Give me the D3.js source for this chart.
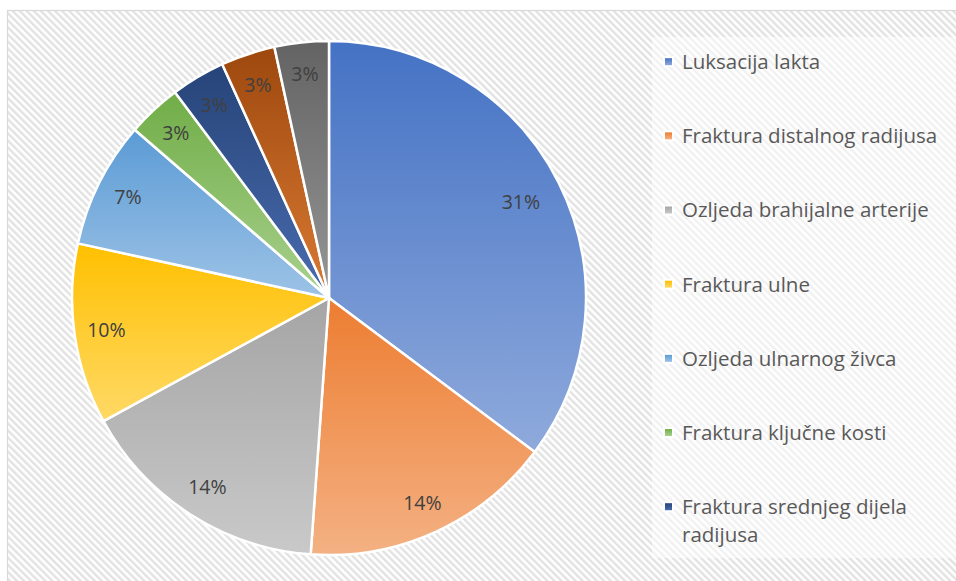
<!DOCTYPE html>
<html>
<head>
<meta charset="utf-8">
<script src="https://cdn.jsdelivr.net/npm/d3@7"></script>
<style>
  body { margin: 0; background: #fff; }
  svg { display: block; }
</style>
</head>
<body>
<svg id="chart" width="956" height="581"></svg>
<script>
// slice values (shown as the data labels), clockwise from 12 o'clock
var values = [31, 14, 14, 10, 7, 3, 3, 3, 3];
var valueLabels = ['31%', '14%', '14%', '10%', '7%', '3%', '3%', '3%', '3%'];
// only the first seven legend entries are visible in the chart
var legendNames = [
  'Luksacija lakta',
  'Fraktura distalnog radijusa',
  'Ozljeda brahijalne arterije',
  'Fraktura ulne',
  'Ozljeda ulnarnog živca',
  'Fraktura ključne kosti',
  'Fraktura srednjeg dijela radijusa'
];

// office palette, top and bottom of each slice gradient
var topColors = ['#4472C4', '#ED7D31', '#A5A5A5', '#FFC000', '#5B9BD5', '#70AD47', '#264478', '#9E480E', '#636363'];
var bottomColors = ['#8FAADC', '#F4B183', '#C9C9C9', '#FFD966', '#9DC3E6', '#A9D18E', '#4A6CB0', '#D97A33', '#969696'];

var svg = d3.select('#chart');
var W = 956, H = 581;
var cx = 329, cy = 298, r = 257;
var font = 'Open Sans, Noto Sans, sans-serif';

var defs = svg.append('defs');

// diagonal hatch background
var hatch = defs.append('pattern')
  .attr('id', 'hatch')
  .attr('patternUnits', 'userSpaceOnUse')
  .attr('width', 5)
  .attr('height', 5)
  .attr('patternTransform', 'rotate(-45)');
hatch.append('rect').attr('width', 5).attr('height', 5).attr('fill', '#fff');
hatch.append('rect').attr('width', 2.4).attr('height', 5).attr('fill', '#e2e2e2');

var grads = defs.selectAll('linearGradient')
  .data(values)
  .enter()
  .append('linearGradient')
  .attr('id', function(d, i) { return 'g' + i; })
  .attr('x1', 0).attr('y1', 0).attr('x2', 0).attr('y2', 1);
grads.append('stop').attr('offset', '0%').attr('stop-color', function(d, i) { return topColors[i]; });
grads.append('stop').attr('offset', '100%').attr('stop-color', function(d, i) { return bottomColors[i]; });

svg.append('rect').attr('width', W).attr('height', H).attr('fill', '#fff');
svg.append('rect')
  .attr('x', 7.5).attr('y', 10.5)
  .attr('width', W).attr('height', H)
  .attr('fill', 'url(#hatch)')
  .attr('stroke', '#d9d9d9')
  .attr('stroke-width', 1.2);

// pie
var pie = d3.pie().sort(null).value(function(d) { return d; });
var arcs = pie(values);
var arc = d3.arc().innerRadius(0).outerRadius(r);

var g = svg.append('g').attr('transform', 'translate(' + cx + ',' + cy + ')');

g.selectAll('path.slice')
  .data(arcs)
  .enter()
  .append('path')
  .attr('class', 'slice')
  .attr('d', arc)
  .attr('fill', function(d, i) { return 'url(#g' + i + ')'; })
  .attr('stroke', '#fff')
  .attr('stroke-width', 2.5)
  .attr('stroke-linejoin', 'round');

// data labels
g.selectAll('text.lbl')
  .data(arcs)
  .enter()
  .append('text')
  .attr('class', 'lbl')
  .attr('transform', function(d) {
    var k = (d.endAngle - d.startAngle) > Math.PI / 2 ? 0.835 : 0.875;
    var la = d3.arc().innerRadius(r * k).outerRadius(r * k);
    return 'translate(' + la.centroid(d) + ')';
  })
  .attr('text-anchor', 'middle')
  .attr('dy', '0.36em')
  .attr('font-family', font)
  .attr('font-size', 19.5)
  .attr('fill', '#404040')
  .text(function(d, i) { return valueLabels[i]; });

// legend
svg.append('rect')
  .attr('x', 652).attr('y', 37)
  .attr('width', W - 652).attr('height', 521)
  .attr('fill', '#fff')
  .attr('fill-opacity', 0.5);

var legendY = d3.scalePoint()
  .domain(d3.range(legendNames.length))
  .range([61.7, 506.7]);

var leg = svg.append('g').selectAll('g')
  .data(legendNames)
  .enter()
  .append('g')
  .attr('transform', function(d, i) { return 'translate(665,' + legendY(i) + ')'; });

leg.append('rect')
  .attr('x', -2).attr('y', -5.5)
  .attr('width', 11).attr('height', 11)
  .attr('fill', '#fff');
leg.append('rect')
  .attr('x', 0).attr('y', -3.5)
  .attr('width', 7).attr('height', 7)
  .attr('fill', function(d, i) { return 'url(#g' + i + ')'; });

var legText = leg.append('text')
  .attr('x', 17)
  .attr('dy', '0.36em')
  .attr('font-family', font)
  .attr('font-size', 20.5)
  .attr('fill', '#595959');

// simple word wrap
legText.each(function(d) {
  var t = d3.select(this);
  var words = d.split(' ');
  var line = [];
  var tspan = t.append('tspan').attr('x', 17);
  words.forEach(function(w) {
    line.push(w);
    tspan.text(line.join(' '));
    if (tspan.node().getComputedTextLength() > 268 && line.length > 1) {
      line.pop();
      tspan.text(line.join(' '));
      line = [w];
      tspan = t.append('tspan').attr('x', 17).attr('dy', 28).text(w);
    }
  });
});
</script>
</body>
</html>
